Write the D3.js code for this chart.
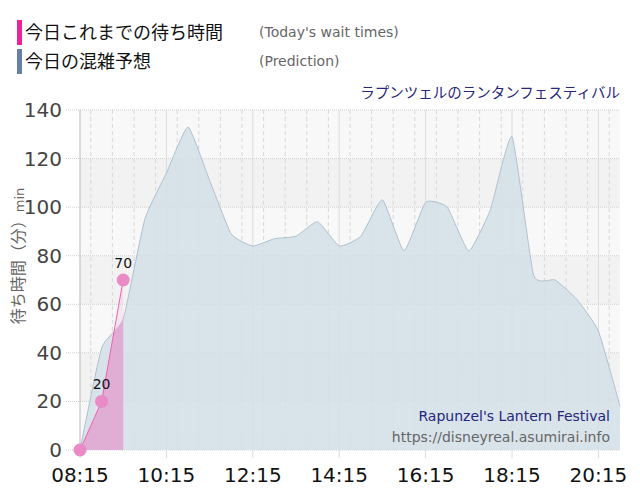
<!DOCTYPE html>
<html>
<head>
<meta charset="utf-8">
<script src="https://cdn.jsdelivr.net/npm/d3@7"></script>
<style>
  body { margin: 0; background: #fff; }
  svg { display: block; font-family: "DejaVu Sans", "Noto Sans CJK JP", sans-serif; }
</style>
</head>
<body>
<div id="chart"></div>
<script>

/* - - - data - - - */

var predTimes = ['08:15','08:45','09:15','09:45','10:15','10:45','11:15','11:45','12:15','12:45',
                 '13:15','13:45','14:15','14:45','15:15','15:45','16:15','16:45','17:15','17:45',
                 '18:15','18:45','19:15','19:45','20:15','20:45'];
var predValues = [0, 42, 54, 95, 114, 133, 111, 89, 84, 87,
                  88, 94, 84, 88, 103, 82, 102, 100, 82, 99,
                  129, 72, 70, 62, 49, 18];

var actualTimes = ['08:15', '08:45', '09:15'];
var actualValues = [0, 20, 70];

var xTickLabels = ['08:15','10:15','12:15','14:15','16:15','18:15','20:15'];
var yTicks = [0, 20, 40, 60, 80, 100, 120, 140];

/* - - - setup - - - */

var width = 640, height = 500;
var margin = {top: 110, right: 20, bottom: 50, left: 80};
var cjk = '"Noto Sans CJK JP", "DejaVu Sans", sans-serif';

var parse = d3.timeParse('%H:%M');

var svg = d3.select('#chart').append('svg')
    .attr('width', width)
    .attr('height', height);

var x = d3.scaleTime()
    .domain([parse('08:15'), parse('20:45')])
    .range([margin.left, width - margin.right]);

var y = d3.scaleLinear()
    .domain([0, 140])
    .range([height - margin.bottom, margin.top]);

var pred = predTimes.map(function(t, i) { return {t: parse(t), v: predValues[i]}; });
var actual = actualTimes.map(function(t, i) { return {t: parse(t), v: actualValues[i]}; });

// background bands
svg.append('g').selectAll('rect')
    .data(d3.range(0, 140, 20))
    .enter().append('rect')
    .attr('x', x.range()[0])
    .attr('width', x.range()[1] - x.range()[0])
    .attr('y', function(d) { return y(d + 20); })
    .attr('height', function(d) { return y(d) - y(d + 20); })
    .attr('fill', function(d) { return (d / 20) % 2 === 0 ? '#f8f8f8' : '#f2f2f2'; });

// vertical grid every 30 min
var halfHours = d3.timeMinute.every(30).range(parse('08:15'), parse('20:46'));
svg.append('g').selectAll('line')
    .data(halfHours)
    .enter().append('line')
    .attr('x1', function(d) { return x(d); })
    .attr('x2', function(d) { return x(d); })
    .attr('y1', y(140))
    .attr('y2', y(0))
    .attr('stroke', '#d8d8d8')
    .attr('stroke-dasharray', '4,3');

// solid lines at labelled ticks
svg.append('g').selectAll('line')
    .data(xTickLabels)
    .enter().append('line')
    .attr('x1', function(d) { return x(parse(d)); })
    .attr('x2', function(d) { return x(parse(d)); })
    .attr('y1', y(140))
    .attr('y2', y(0) + 8)
    .attr('stroke', '#dcdcdc');

// horizontal grid
svg.append('g').selectAll('line')
    .data(yTicks)
    .enter().append('line')
    .attr('x1', margin.left - 14)
    .attr('x2', x.range()[1])
    .attr('y1', function(d) { return y(d); })
    .attr('y2', function(d) { return y(d); })
    .attr('stroke', '#cfcfcf')
    .attr('stroke-dasharray', '1,1');

// left axis line
svg.append('line')
    .attr('x1', margin.left).attr('x2', margin.left)
    .attr('y1', y(140)).attr('y2', y(0))
    .attr('stroke', '#c8c8c8');

// prediction area
var smooth = d3.curveCardinal.tension(0.55);

var predArea = d3.area()
    .x(function(d) { return x(d.t); })
    .y0(y(0))
    .y1(function(d) { return y(d.v); })
    .curve(smooth);

var predLine = d3.line()
    .x(function(d) { return x(d.t); })
    .y(function(d) { return y(d.v); })
    .curve(smooth);

svg.append('clipPath')
    .attr('id', 'predClip')
    .append('path')
    .datum(pred)
    .attr('d', predArea);

svg.append('path')
    .datum(pred)
    .attr('d', predArea)
    .attr('fill', '#d3dfe8')
    .attr('fill-opacity', 0.85);

svg.append('path')
    .datum(pred)
    .attr('d', predLine)
    .attr('fill', 'none')
    .attr('stroke', '#afc1cf')
    .attr('stroke-width', 1);

// actual area + line
var actArea = d3.area()
    .x(function(d) { return x(d.t); })
    .y0(y(0))
    .y1(function(d) { return y(d.v); });

svg.append('path')
    .datum(actual)
    .attr('d', actArea)
    .attr('fill', '#eab8dc')
    .attr('fill-opacity', 0.3);

svg.append('path')
    .datum(actual)
    .attr('d', actArea)
    .attr('clip-path', 'url(#predClip)')
    .attr('fill', '#e0aed4');

svg.append('path')
    .datum(actual)
    .attr('d', d3.line()
        .x(function(d) { return x(d.t); })
        .y(function(d) { return y(d.v); }))
    .attr('fill', 'none')
    .attr('stroke', '#f062b0')
    .attr('stroke-width', 1);

svg.append('g').selectAll('circle')
    .data(actual)
    .enter().append('circle')
    .attr('cx', function(d) { return x(d.t); })
    .attr('cy', function(d) { return y(d.v); })
    .attr('r', 6.5)
    .attr('fill', '#ea8ac6');

svg.append('g').selectAll('text')
    .data(actual.filter(function(d) { return d.v > 0; }))
    .enter().append('text')
    .attr('x', function(d) { return x(d.t); })
    .attr('y', function(d) { return y(d.v) - 12; })
    .attr('text-anchor', 'middle')
    .attr('font-size', 14)
    .attr('fill', '#111')
    .text(function(d) { return d.v; });

// y tick labels
svg.append('g').selectAll('text')
    .data(yTicks)
    .enter().append('text')
    .attr('x', 62)
    .attr('y', function(d) { return y(d) + 7; })
    .attr('text-anchor', 'end')
    .attr('font-size', 20)
    .attr('fill', '#444')
    .text(function(d) { return d; });

// x tick labels
svg.append('g').selectAll('text')
    .data(xTickLabels)
    .enter().append('text')
    .attr('x', function(d) { return x(parse(d)); })
    .attr('y', 482)
    .attr('text-anchor', 'middle')
    .attr('font-size', 20)
    .attr('fill', '#111')
    .text(function(d) { return d; });

// y axis title
var yTitle = svg.append('text')
    .attr('transform', 'translate(24,' + 256 + ') rotate(-90)')
    .attr('text-anchor', 'middle')
    .attr('fill', '#666');
yTitle.append('tspan').attr('font-size', 16).attr('font-family', cjk).text('待ち時間（分）');
yTitle.append('tspan').attr('font-size', 13).text('min');

/* - - - legend & notes - - - */

var legend = [
    {label: '今日これまでの待ち時間', sub: "(Today's wait times)", color: '#f0219a'},
    {label: '今日の混雑予想', sub: '(Prediction)', color: '#6680aa'}
];

var lg = svg.append('g').selectAll('g')
    .data(legend)
    .enter().append('g')
    .attr('transform', function(d, i) { return 'translate(0,' + (i * 29) + ')'; });

lg.append('rect')
    .attr('x', 17).attr('y', 20)
    .attr('width', 5).attr('height', 25)
    .attr('fill', function(d) { return d.color; });

lg.append('text')
    .attr('x', 25).attr('y', 39)
    .attr('font-size', 18)
    .attr('font-family', cjk)
    .attr('fill', '#111')
    .text(function(d) { return d.label; });

lg.append('text')
    .attr('x', 259).attr('y', 37)
    .attr('font-size', 14)
    .attr('fill', '#666')
    .text(function(d) { return d.sub; });

svg.append('text')
    .attr('x', 620).attr('y', 98)
    .attr('text-anchor', 'end')
    .attr('font-size', 14.5)
    .attr('font-family', cjk)
    .attr('fill', '#26267a')
    .text('ラプンツェルのランタンフェスティバル');

svg.append('text')
    .attr('x', 610).attr('y', 421)
    .attr('text-anchor', 'end')
    .attr('font-size', 14)
    .attr('fill', '#26267a')
    .text("Rapunzel's Lantern Festival");

svg.append('text')
    .attr('x', 610).attr('y', 442)
    .attr('text-anchor', 'end')
    .attr('font-size', 14)
    .attr('fill', '#666')
    .text('https://disneyreal.asumirai.info');

</script>
</body>
</html>
